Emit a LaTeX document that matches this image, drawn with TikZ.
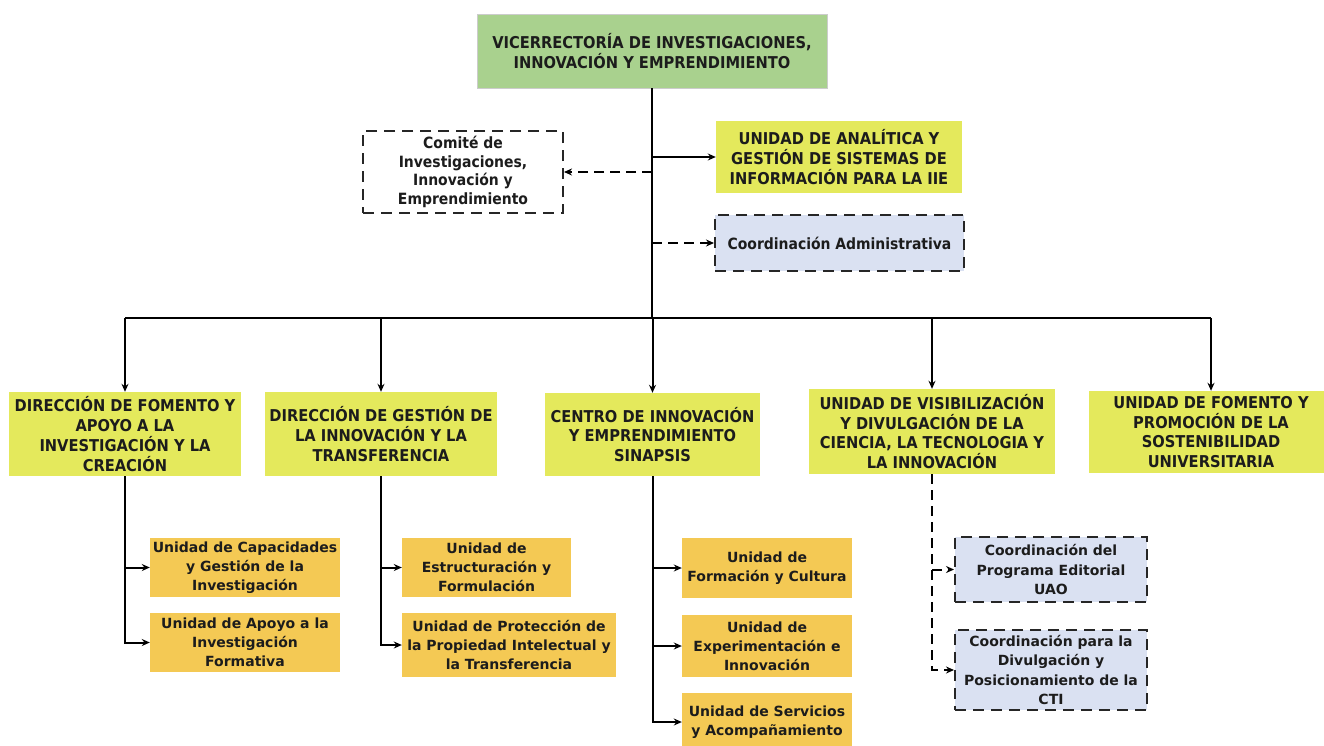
\documentclass[tikz,border=0pt]{standalone}
\usepackage{fontspec}
\setmainfont{DejaVu Sans}
\newfontfamily\condfont{DejaVu Sans Condensed}
\usetikzlibrary{arrows.meta}
\definecolor{vgreen}{RGB}{169,209,142}
\definecolor{vyellow}{RGB}{228,233,92}
\definecolor{vorange}{RGB}{244,201,84}
\definecolor{vblue}{RGB}{218,225,242}
\definecolor{vtext}{RGB}{28,28,28}

\begin{document}
\begin{tikzpicture}[x=1pt,y=-1pt]
    \tikzstyle{box}=[inner sep=0pt, align=center, text=vtext]
    \tikzstyle{head}=[box, font=\condfont\bfseries\fontsize{16.3}{19.8}\selectfont]
    \tikzstyle{unit}=[box, font=\bfseries\fontsize{14}{19.2}\selectfont]
    \tikzstyle{topbox}=[head, fill=vgreen, draw=black!20]
    \tikzstyle{ybox}=[head, fill=vyellow]
    \tikzstyle{obox}=[unit, fill=vorange]
    \tikzstyle{dbox}=[unit, draw=black!85, line width=2pt, dash pattern=on 11pt off 7pt]
    \tikzstyle{wire}=[line width=2pt, black]
    \tikzstyle{link}=[wire, -{Stealth[length=8pt,width=7pt]}]
    \tikzstyle{dlink}=[link, dash pattern=on 10pt off 6pt]
    \useasboundingbox (0,0) rectangle (1324,745);
    \fill[white] (0,0) rectangle (1324,745);

    \node[topbox, minimum width=350, minimum height=74] (vice) at (652,51)
      {VICERRECTORÍA DE INVESTIGACIONES,\\INNOVACIÓN Y EMPRENDIMIENTO};
    \node[dbox, fill=white, minimum width=200, minimum height=82,
      font=\condfont\bfseries\fontsize{15.5}{18.5}\selectfont] (comite) at (463,172)
      {Comité de\\Investigaciones,\\Innovación y\\Emprendimiento};
    \node[ybox, minimum width=246, minimum height=72] (analitica) at (839,157)
      {UNIDAD DE ANALÍTICA Y\\GESTIÓN DE SISTEMAS DE\\INFORMACIÓN PARA LA IIE};
    \node[dbox, fill=vblue, minimum width=249, minimum height=56,
      font=\condfont\bfseries\fontsize{15.5}{18.5}\selectfont] (coordadm) at (839.5,243)
      {Coordinación Administrativa};

    \node[ybox, minimum width=232, minimum height=84] (dirfom) at (125,434)
      {DIRECCIÓN DE FOMENTO Y\\APOYO A LA\\INVESTIGACIÓN Y LA\\CREACIÓN};
    \node[ybox, minimum width=232, minimum height=84] (dirgest) at (381,434)
      {DIRECCIÓN DE GESTIÓN DE\\LA INNOVACIÓN Y LA\\TRANSFERENCIA};
    \node[ybox, minimum width=215, minimum height=83] (sinapsis) at (652.5,434.5)
      {CENTRO DE INNOVACIÓN\\Y EMPRENDIMIENTO\\SINAPSIS};
    \node[ybox, minimum width=246, minimum height=85] (visib) at (932,431.5)
      {UNIDAD DE VISIBILIZACIÓN\\Y DIVULGACIÓN DE LA\\CIENCIA, LA TECNOLOGIA Y\\LA INNOVACIÓN};
    \node[ybox, minimum width=244, minimum height=82] (sosten) at (1211,432)
      {UNIDAD DE FOMENTO Y\\PROMOCIÓN DE LA\\SOSTENIBILIDAD\\UNIVERSITARIA};

    \node[obox, minimum width=190, minimum height=59] (capac) at (245,567.5)
      {Unidad de Capacidades\\y Gestión de la\\Investigación};
    \node[obox, minimum width=190, minimum height=59] (apoyo) at (245,642.5)
      {Unidad de Apoyo a la\\Investigación\\Formativa};
    \node[obox, minimum width=169, minimum height=59] (estruct) at (486.5,567.5)
      {Unidad de\\Estructuración y\\Formulación};
    \node[obox, minimum width=214, minimum height=64] (protec) at (509,645)
      {Unidad de Protección de\\la Propiedad Intelectual y\\la Transferencia};
    \node[obox, minimum width=170, minimum height=60] (formac) at (767,568)
      {Unidad de\\Formación y Cultura};
    \node[obox, minimum width=170, minimum height=62] (experim) at (767,646)
      {Unidad de\\Experimentación e\\Innovación};
    \node[obox, minimum width=170, minimum height=58] (servic) at (767,722)
      {Unidad de Servicios\\y Acompañamiento};
    \node[dbox, fill=vblue, minimum width=192, minimum height=65] (editorial) at (1051,569.5)
      {Coordinación del\\Programa Editorial\\UAO};
    \node[dbox, fill=vblue, minimum width=192, minimum height=80] (divulg) at (1051,670)
      {Coordinación para la\\Divulgación y\\Posicionamiento de la\\CTI};

    \coordinate (bus) at (652,318);
    \draw[wire] (vice.south) -- (bus);
    \draw[link] (vice.south |- analitica.west) -- (analitica.west);
    \draw[dlink] (vice.south |- comite.east) -- (comite.east);
    \draw[dlink] (vice.south |- coordadm.west) -- (coordadm.west);
    \draw[wire] (dirfom.north |- bus) -- (sosten.north |- bus);
    \foreach \n in {dirfom,dirgest,sinapsis,visib,sosten}
      \draw[link] (\n.north |- bus) -- (\n.north);

    \draw[link] (dirfom.south) |- (apoyo.west);
    \draw[link] (dirfom.south |- capac.west) -- (capac.west);
    \draw[link] (dirgest.south) |- (protec.west);
    \draw[link] (dirgest.south |- estruct.west) -- (estruct.west);
    \draw[link] (sinapsis.south) |- (servic.west);
    \draw[link] (sinapsis.south |- formac.west) -- (formac.west);
    \draw[link] (sinapsis.south |- experim.west) -- (experim.west);
    \draw[dlink] (visib.south) |- (divulg.west);
    \draw[dlink] (visib.south |- editorial.west) -- (editorial.west);
\end{tikzpicture}
\end{document}
